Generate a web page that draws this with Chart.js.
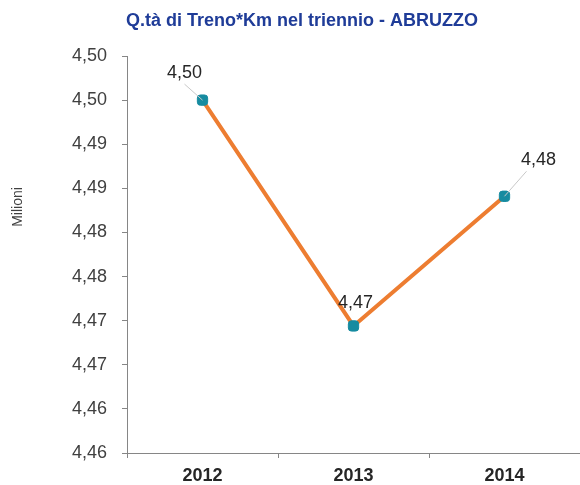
<!DOCTYPE html>
<html>
<head>
<meta charset="utf-8">
<script src="https://cdn.jsdelivr.net/npm/chart.js@4"></script>
<style>
  html, body { margin: 0; padding: 0; background: #fff; }
  #wrap { width: 580px; height: 485px; position: relative; }
</style>
</head>
<body>
<div id="wrap"><canvas id="trenoChart"></canvas></div>
<script>
const years = ['2012', '2013', '2014'];
const trenoKm = [4.4950, 4.4694, 4.4841];
const yTickLabels = ['4,46', '4,46', '4,47', '4,47', '4,48', '4,48', '4,49', '4,49', '4,50', '4,50'];
// label offsets from each point (dx, dy), with leader line when far
const labelOffsets = [[-18, -27], [2, -23], [34, -36]];

const FONT = '"Liberation Sans", Arial, sans-serif';

function fmt(v) {
    return (Math.round(v * 100 + 1e-6) / 100).toFixed(2).replace('.', ',');
}

const labelsPlugin = {
    id: 'extras',
    afterDatasetsDraw(chart) {
        const c = chart.ctx;
        const meta = chart.getDatasetMeta(0);
        c.save();
        meta.data.forEach((pt, i) => {
            const [dx, dy] = labelOffsets[i];
            const lx = pt.x + dx, ly = pt.y + dy;
            if (Math.abs(dx) > 10) {
                c.strokeStyle = '#c8c8c8';
                c.lineWidth = 1;
                c.beginPath();
                c.moveTo(pt.x, pt.y);
                c.lineTo(lx + (dx < 0 ? 0 : -12), ly + 11);
                c.stroke();
            }
            c.fillStyle = '#262626';
            c.font = '18px ' + FONT;
            c.textAlign = 'center';
            c.textBaseline = 'middle';
            c.fillText(fmt(trenoKm[i]), lx, ly);
        });
        c.restore();
    },
    afterDraw(chart) {
        const c = chart.ctx;
        c.save();
        c.fillStyle = '#1f3c98';
        c.font = 'bold 18px ' + FONT;
        c.textAlign = 'center';
        c.textBaseline = 'middle';
        c.fillText('Q.tà di Treno*Km nel triennio - ABRUZZO', 302, 21);
        c.translate(18, 207);
        c.rotate(-Math.PI / 2);
        c.fillStyle = '#404040';
        c.font = '14px ' + FONT;
        c.fillText('Milioni', 0, 0);
        c.restore();
    }
};

const ctx = document.getElementById('trenoChart').getContext('2d');
const trenoChart = new Chart(ctx, {
    type: 'line',
    data: {
        labels: years,
        datasets: [{
            data: trenoKm,
            borderColor: '#ed7d31',
            borderWidth: 4,
            pointStyle: 'rectRounded',
            pointRadius: 6,
            pointHoverRadius: 6,
            pointBackgroundColor: '#168ba0',
            pointBorderColor: '#168ba0',
            pointBorderWidth: 1,
            tension: 0
        }]
    },
    options: {
        responsive: true,
        maintainAspectRatio: false,
        animation: false,
        layout: { autoPadding: false, padding: { top: 56, left: 0, right: 0, bottom: 0 } },
        plugins: {
            legend: { display: false },
            tooltip: { enabled: false },
            title: { display: false }
        },
        scales: {
            x: {
                offset: true,
                border: { color: '#868686', width: 1 },
                grid: { drawOnChartArea: false, offset: true, tickLength: 5, color: '#868686' },
                ticks: {
                    color: '#262626',
                    padding: 7,
                    font: { family: FONT, size: 18, weight: 'bold' }
                },
                afterFit(scale) { scale.height = 32; }
            },
            y: {
                min: 4.455,
                max: 4.5,
                border: { color: '#868686', width: 1 },
                grid: { drawOnChartArea: false, tickLength: 5, color: '#868686' },
                ticks: {
                    stepSize: 0.005,
                    color: '#404040',
                    padding: 15,
                    font: { family: FONT, size: 18 },
                    callback: (v, i) => yTickLabels[i]
                },
                afterFit(scale) { scale.width = 127; }
            }
        }
    },
    plugins: [labelsPlugin]
});
</script>
</body>
</html>
